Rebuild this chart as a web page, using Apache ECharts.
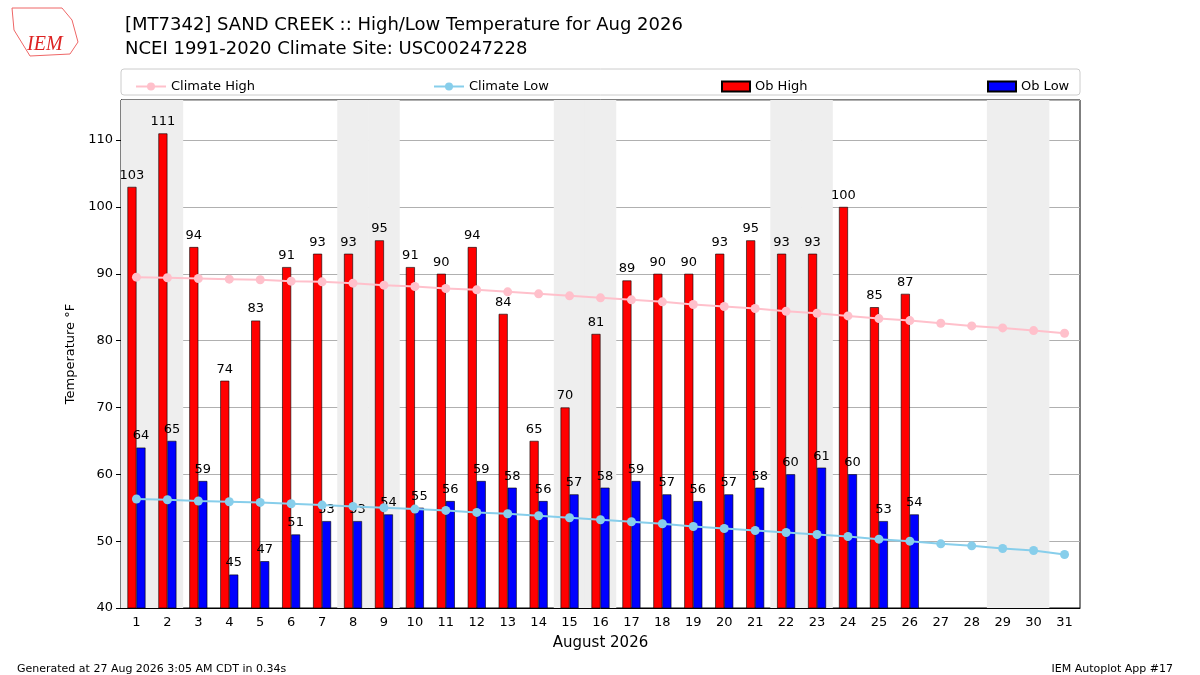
<!DOCTYPE html>
<html><head><meta charset="utf-8">
<script src="https://cdn.jsdelivr.net/npm/echarts@6/dist/echarts.min.js"></script>
<style>body{margin:0}#c{width:1200px;height:675px}</style>
</head><body><div id="c"></div>
<script>
var days = [];
for (var d = 1; d <= 31; d++) days.push(String(d));
var obHigh = [103,111,94,74,83,91,93,93,95,91,90,94,84,65,70,81,89,90,90,93,95,93,93,100,85,87];
var obLow = [64,65,59,45,47,51,53,53,54,55,56,59,58,56,57,58,59,57,56,57,58,60,61,60,53,54];
var climHigh = [89.5,89.4,89.3,89.2,89.1,88.9,88.8,88.6,88.3,88.1,87.8,87.6,87.3,87.0,86.7,86.4,86.1,85.8,85.4,85.1,84.8,84.4,84.1,83.7,83.3,83.0,82.6,82.2,81.9,81.5,81.1];
var climLow = [56.3,56.2,56.0,55.9,55.8,55.6,55.4,55.2,55.0,54.8,54.6,54.3,54.1,53.8,53.5,53.2,52.9,52.6,52.2,51.9,51.6,51.3,51.0,50.7,50.3,50.0,49.6,49.3,48.9,48.6,48.0];
var weekendDays = [1,2,8,9,15,16,22,23,29,30];
var yMin = 40, yMax = 116;

var shade = days.map(function (d) { return weekendDays.indexOf(+d) >= 0 ? yMax : null; });
var font = 'DejaVu Sans';
var myChart = echarts.init(document.getElementById('c'));
function leg(name, left, icon) {
  var l = {data: [name], left: left, top: 75, itemWidth: icon ? 28 : 30, itemHeight: 10,
    textStyle: {fontFamily: font, fontSize: 13, color: '#000'}};
  if (icon) l.icon = icon;
  return l;
}
option = {
  animation: false,
  textStyle: {fontFamily: font},
  title: [
    {text: '[MT7342] SAND CREEK :: High/Low Temperature for Aug 2026\nNCEI 1991-2020 Climate Site: USC00247228',
     left: 120, top: 8, textStyle: {fontFamily: font, fontSize: 18, fontWeight: 'normal', lineHeight: 24, color: '#000'}},
    {text: 'Generated at 27 Aug 2026 3:05 AM CDT in 0.34s', left: 12, top: 659,
     textStyle: {fontFamily: font, fontSize: 11, fontWeight: 'normal', color: '#000'}},
    {text: 'IEM Autoplot App #17', right: 22, top: 659,
     textStyle: {fontFamily: font, fontSize: 11, fontWeight: 'normal', color: '#000'}},
    {text: 'IEM', left: 22, top: 30, textStyle: {fontFamily: 'Liberation Serif', fontStyle: 'italic', fontSize: 20, fontWeight: 'normal', color: '#d22'}}
  ],
  graphic: [
    {type: 'rect', shape: {x: 121, y: 69, width: 959, height: 26, r: 3}, style: {fill: '#fff', stroke: '#ccc'}},
    {type: 'polyline', shape: {points: [[12,8],[62,8],[72,20],[78,42],[70,54],[30,56],[14,30],[12,8]]}, style: {fill: 'none', stroke: '#e66', lineWidth: 1}}
  ],
  legend: [leg('Climate High', 130), leg('Climate Low', 428), leg('Ob High', 716, 'rect'), leg('Ob Low', 982, 'rect')],
  grid: {left: 121, right: 120, top: 100, bottom: 67, show: true, borderColor: '#000', borderWidth: 1, backgroundColor: 'transparent'},
  xAxis: [
    {type: 'category', data: days, name: 'August 2026', nameLocation: 'middle', nameGap: 28,
     nameTextStyle: {fontSize: 15, color: '#000'},
     axisLine: {onZero: false, lineStyle: {color: '#000'}}, axisTick: {alignWithLabel: true, lineStyle: {color: '#000'}},
     axisLabel: {color: '#000', fontSize: 13}},
    {type: 'category', data: days, show: false}
  ],
  yAxis: {type: 'value', min: yMin, max: yMax, interval: 10, name: 'Temperature °F', nameLocation: 'middle', nameGap: 36,
    nameTextStyle: {fontSize: 13, color: '#000'},
    axisLine: {show: true, lineStyle: {color: '#000'}}, axisTick: {show: true},
    axisLabel: {color: '#000', fontSize: 13, showMaxLabel: false},
    splitLine: {lineStyle: {color: '#b0b0b0'}}},
  series: [
    {type: 'bar', xAxisIndex: 1, data: shade, barWidth: '102%', itemStyle: {color: '#eee'}, silent: true, z: 0},
    {name: 'Ob High', type: 'bar', data: obHigh, barWidth: 9, barGap: '0%',
     itemStyle: {color: '#ff0000', borderColor: '#000', borderWidth: 0.6},
     label: {show: true, position: 'top', color: '#000', fontSize: 13}},
    {name: 'Ob Low', type: 'bar', data: obLow, barWidth: 9,
     itemStyle: {color: '#0000ff', borderColor: '#000', borderWidth: 0.6},
     label: {show: true, position: 'top', color: '#000', fontSize: 13}},
    {name: 'Climate High', type: 'line', data: climHigh, symbol: 'circle', symbolSize: 9,
     itemStyle: {color: 'pink'}, lineStyle: {color: 'pink', width: 2}, z: 5},
    {name: 'Climate Low', type: 'line', data: climLow, symbol: 'circle', symbolSize: 9,
     itemStyle: {color: 'skyblue'}, lineStyle: {color: 'skyblue', width: 2}, z: 5}
  ]
};
myChart.setOption(option);
</script></body></html>
